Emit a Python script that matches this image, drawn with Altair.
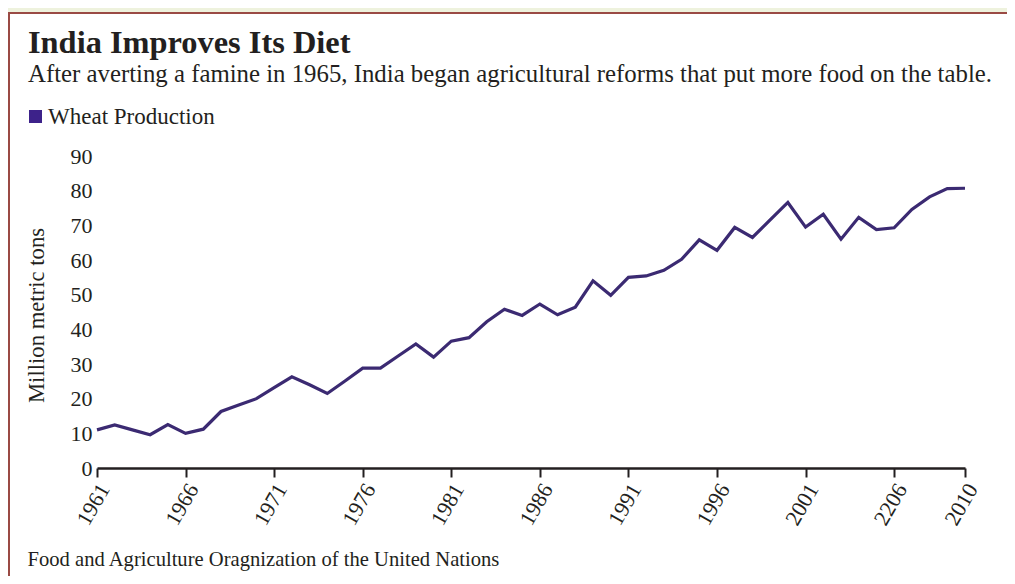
import altair as alt
import pandas as pd

years = [1961, 1962, 1963, 1964, 1965, 1966, 1967, 1968, 1969, 1970,
         1971, 1972, 1973, 1974, 1975, 1976, 1977, 1978, 1979, 1980,
         1981, 1982, 1983, 1984, 1985, 1986, 1987, 1988, 1989, 1990,
         1991, 1992, 1993, 1994, 1995, 1996, 1997, 1998, 1999, 2000,
         2001, 2002, 2003, 2004, 2005, 2006, 2007, 2008, 2009, 2010]
wheat = [11.0, 12.4, 11.0, 9.6, 12.5, 10.0, 11.2, 16.3, 18.2, 20.0,
         23.2, 26.3, 24.0, 21.5, 25.1, 28.8, 28.8, 32.3, 35.8, 32.0,
         36.6, 37.6, 42.2, 45.8, 44.0, 47.3, 44.2, 46.4, 54.0, 49.8,
         55.0, 55.4, 57.0, 60.2, 65.8, 62.8, 69.4, 66.5, 71.6, 76.6,
         69.5, 73.2, 66.0, 72.3, 68.8, 69.3, 74.6, 78.2, 80.6, 80.7]
tick_years = [1961, 1966, 1971, 1976, 1981, 1986, 1991, 1996, 2001, 2006, 2010]
y_ticks = [0, 10, 20, 30, 40, 50, 60, 70, 80, 90]
series_name = "Wheat Production"

title_text = "India Improves Its Diet"
subtitle_text = ("After averting a famine in 1965, India began agricultural reforms "
                 "that put more food on the table.")
source_text = "Food and Agriculture Oragnization of the United Nations"
y_title = "Million metric tons"

SERIF = "Liberation Serif"
INK = "#231f20"
LINE = "#3b2a72"

df = pd.DataFrame({"year": years, "wheat": wheat, "series": [series_name] * len(years)})

W, H = 868, 312

panel = alt.Chart(pd.DataFrame({"p": [0]})).mark_rect(
    fill="white", stroke="#9a4a44", strokeWidth=2
).encode(
    x=alt.value(-88), x2=alt.value(W + 200),
    y=alt.value(-143), y2=alt.value(H + 300),
)

line = alt.Chart(df).mark_line(strokeWidth=3.2, strokeJoin="miter").encode(
    x=alt.X(
        "year:Q",
        scale=alt.Scale(domain=[1961, 2010], nice=False, zero=False),
        axis=alt.Axis(
            values=tick_years,
            format="d",
            labelExpr="datum.value == 2006 ? '2206' : datum.label",
            labelAngle=300,
            labelAlign="right",
            labelBaseline="middle",
            labelFont=SERIF,
            labelFontSize=22,
            labelColor=INK,
            labelPadding=8,
            labelOffset=7,
            tickSize=9,
            tickWidth=2,
            tickColor=INK,
            domainColor=INK,
            domainWidth=2.5,
            grid=False,
            zindex=1,
            title=source_text,
            titleFont=SERIF,
            titleFontSize=20.6,
            titleFontWeight="normal",
            titleColor=INK,
            titleX=-70,
            titleY=97,
            titleAlign="left",
            titleBaseline="alphabetic",
            titleAngle=0,
        ),
    ),
    y=alt.Y(
        "wheat:Q",
        scale=alt.Scale(domain=[0, 90], nice=False),
        axis=alt.Axis(
            values=y_ticks,
            domain=False,
            ticks=False,
            tickSize=0,
            grid=False,
            zindex=1,
            labelFont=SERIF,
            labelFontSize=22,
            labelColor=INK,
            labelPadding=5,
            title=y_title,
            titleFont=SERIF,
            titleFontSize=22.7,
            titleFontWeight="normal",
            titleColor=INK,
            titleX=-61,
            titleY=159,
            titleAngle=270,
            titleAlign="center",
            titleBaseline="middle",
        ),
    ),
    color=alt.Color(
        "series:N",
        scale=alt.Scale(domain=[series_name], range=[LINE]),
        legend=alt.Legend(
            title=None,
            orient="none",
            legendX=-73,
            legendY=-51,
            symbolType="square",
            symbolSize=170,
            symbolFillColor="#3d228a",
            symbolStrokeWidth=0,
            labelFont=SERIF,
            labelFontSize=23,
            labelColor=INK,
            labelOffset=1,
            labelLimit=400,
            padding=0,
            zindex=1,
        ),
    ),
)

chart = alt.layer(panel, line).properties(
    width=W,
    height=H,
    autosize=alt.AutoSizeParams(type="none"),
    padding={"left": 89, "top": 148, "right": 42, "bottom": 108},
    background="#eef2dd",
    title=alt.TitleParams(
        text=title_text,
        subtitle=subtitle_text,
        anchor="start",
        frame="group",
        dx=-69,
        dy=75,
        offset=0,
        font=SERIF,
        fontSize=32.4,
        fontWeight="bold",
        color=INK,
        subtitleFont=SERIF,
        subtitleFontSize=24.8,
        subtitleColor=INK,
        subtitlePadding=3,
    ),
).configure_view(stroke=None)

chart.save("out.html", embed_options={"renderer": "svg", "actions": False})
